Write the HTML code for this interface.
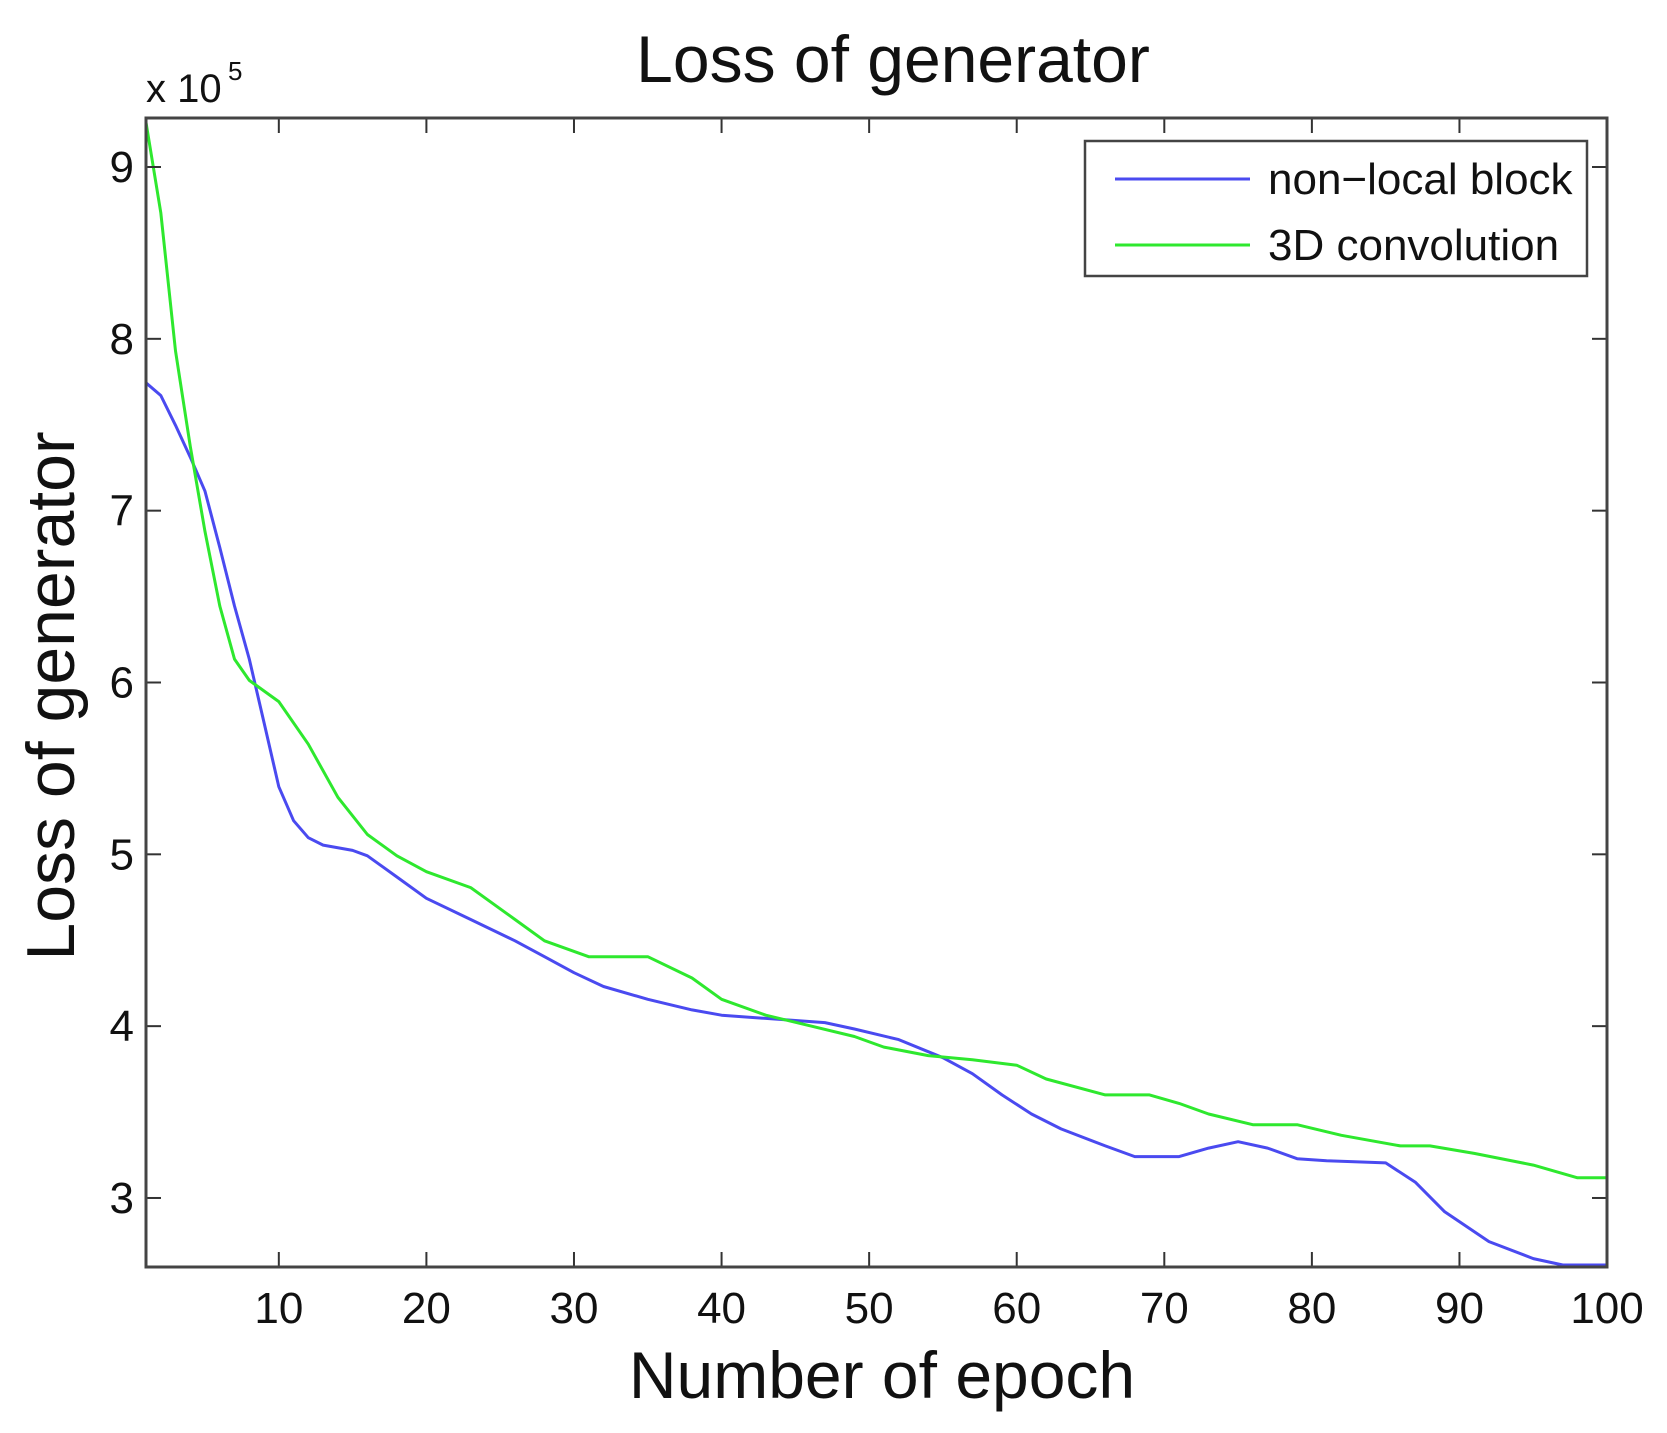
<!DOCTYPE html>
<html><head><style>body{margin:0;background:#fff}svg{display:block}</style></head><body>
<svg id="s" width="1667" height="1433" xmlns="http://www.w3.org/2000/svg" font-family="Liberation Sans, Arial, sans-serif">
<rect width="1667" height="1433" fill="#fff"/>
<g id="g"></g>
<text x="893" y="82" font-size="66" text-anchor="middle" fill="#111">Loss of generator</text>
<text x="146" y="102" font-size="40" fill="#111">x 10</text>
<text x="228" y="80" font-size="26" fill="#111">5</text>
<text x="882" y="1398" font-size="66" text-anchor="middle" fill="#111">Number of epoch</text>
<text transform="translate(74,696) rotate(-90)" font-size="68" text-anchor="middle" fill="#111">Loss of generator</text>
<rect x="1085" y="141" width="502" height="135" fill="#fff" stroke="#444" stroke-width="2.5"/>
<line x1="1115" y1="179" x2="1250" y2="179" stroke="#4a4af0" stroke-width="3"/>
<line x1="1115" y1="245" x2="1250" y2="245" stroke="#2ee82e" stroke-width="3"/>
<text x="1268" y="194" font-size="44" fill="#111">non−local block</text>
<text x="1268" y="260" font-size="44" fill="#111">3D convolution</text>
</svg>
<script>
var g=document.getElementById('g'),ns='http://www.w3.org/2000/svg';
function el(t,a){var e=document.createElementNS(ns,t);for(var k in a)e.setAttribute(k,a[k]);g.appendChild(e);return e;}
var L=146,R=1607,T=118,B=1267;
function X(e){return L+(e-1)*14.758;}
function Yd(d){return 167+(d-157)*1.0629;}
var blue=[[1,360],[2,372],[3,400],[4,430],[5,462],[6,515],[7,570],[8,620],[9,680],[10,740],[11,772],[12,788],[13,795],[15,800],[16,805],[18,825],[20,845],[23,865],[26,885],[28,900],[30,915],[32,928],[35,940],[38,950],[40,955],[43,958],[45,960],[47,962],[49,968],[52,978],[55,995],[57,1010],[59,1030],[61,1048],[63,1062],[66,1078],[68,1088],[71,1088],[73,1080],[75,1074],[77,1080],[79,1090],[81,1092],[85,1094],[87,1112],[89,1140],[92,1168],[95,1184],[97,1190],[100,1190]];
var green=[[1,115],[2,200],[3,330],[4,420],[5,500],[6,570],[7,620],[8,640],[10,660],[12,700],[14,750],[16,785],[18,805],[20,820],[23,835],[26,865],[28,885],[31,900],[35,900],[38,920],[40,940],[43,955],[46,965],[49,975],[51,985],[54,993],[57,997],[60,1002],[62,1015],[66,1030],[69,1030],[71,1038],[73,1048],[76,1058],[79,1058],[82,1068],[86,1078],[88,1078],[91,1085],[95,1096],[98,1108],[100,1108]];
function pts(a){return a.map(function(p){return X(p[0]).toFixed(1)+','+Math.min(B,Math.max(T,Yd(p[1]))).toFixed(1)}).join(' ');}
el('polyline',{points:pts(blue),fill:'none',stroke:'#4a4af0','stroke-width':3,'stroke-linejoin':'round'});
el('polyline',{points:pts(green),fill:'none',stroke:'#2ee82e','stroke-width':3,'stroke-linejoin':'round'});
for(var v=3;v<=9;v++){var y=167+(9-v)*171.83;
el('line',{x1:L,y1:y,x2:L+15,y2:y,stroke:'#333','stroke-width':2});
el('line',{x1:R-15,y1:y,x2:R,y2:y,stroke:'#333','stroke-width':2});
var t=el('text',{x:L-12,y:y+15,'font-size':44,'text-anchor':'end',fill:'#111'});t.textContent=v;}
for(var e=10;e<=100;e+=10){var x=X(e);
el('line',{x1:x,y1:B,x2:x,y2:B-15,stroke:'#333','stroke-width':2});
el('line',{x1:x,y1:T,x2:x,y2:T+15,stroke:'#333','stroke-width':2});
var t=el('text',{x:x,y:1323,'font-size':44,'text-anchor':'middle',fill:'#111'});t.textContent=e;}
el('rect',{x:L,y:T,width:R-L,height:B-T,fill:'none',stroke:'#444','stroke-width':3});
</script>
</body></html>
